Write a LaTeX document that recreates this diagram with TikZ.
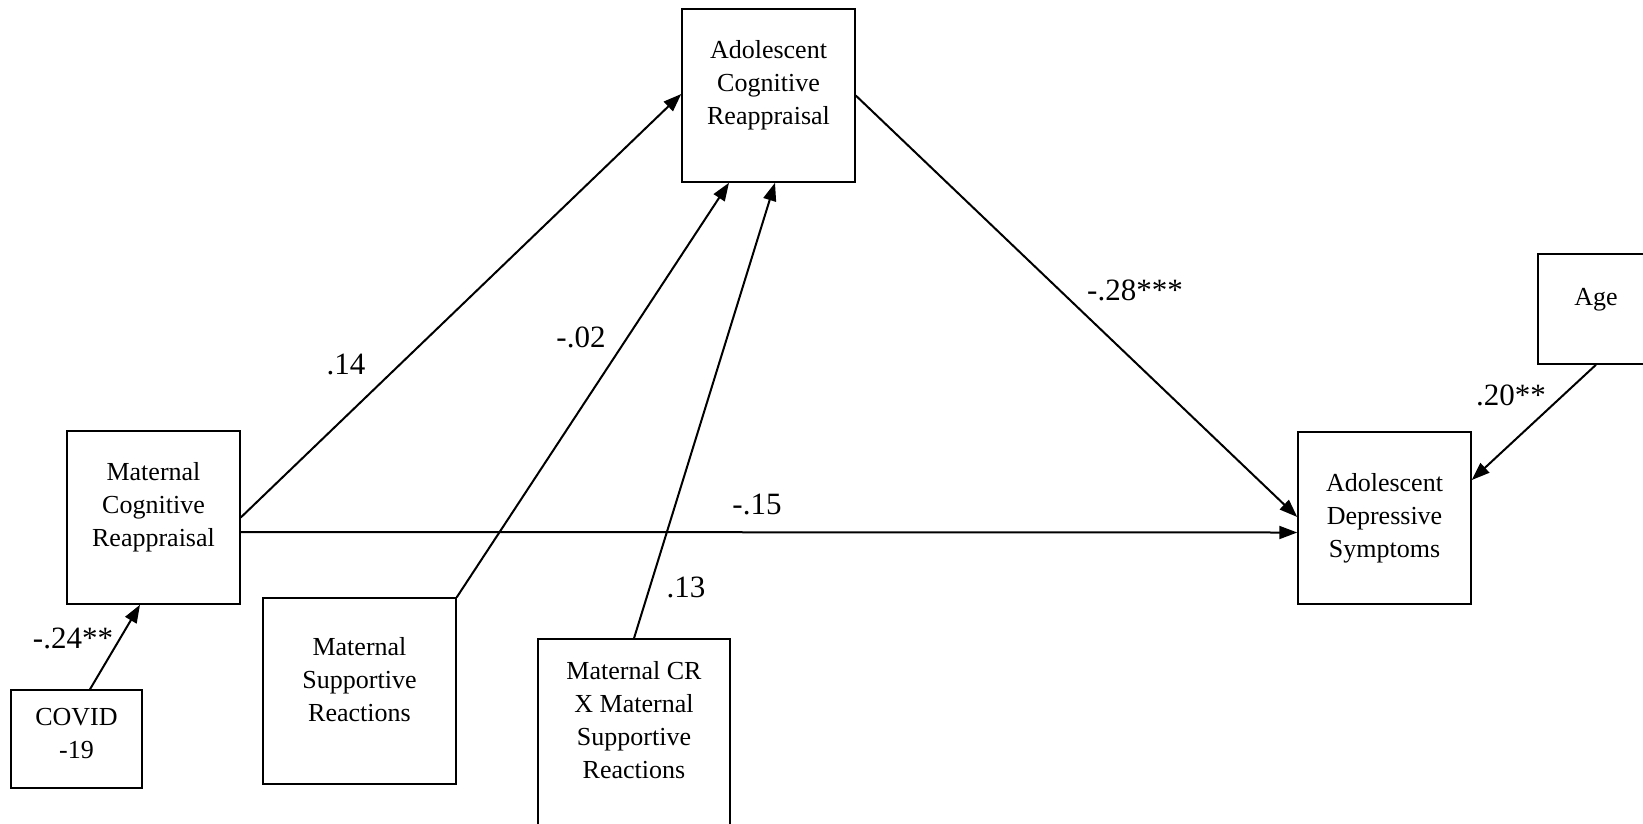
\documentclass[tikz,border=0pt]{standalone}
\usepackage{fontspec}
\setmainfont{Liberation Serif}
\usetikzlibrary{arrows.meta}
\begin{document}
\begin{tikzpicture}[x=1pt,y=-1pt,
  box/.style={draw,line width=1.5pt,rectangle,inner sep=0pt},
  boxtext/.style={align=center,font=\fontsize{26}{33}\selectfont,inner sep=0pt},
  path/.style={line width=2pt,-{Triangle[length=18pt,width=13pt]}},
  coef/.style={font=\fontsize{31}{36}\selectfont,inner sep=0pt}]
\useasboundingbox (0,0) rectangle (1643,823);
\clip (0,0) rectangle (1643,823);
% boxes
\node[box,minimum width=173pt,minimum height=173pt] (acr) at (768.5,95.5) {};
\node[box,minimum width=173pt,minimum height=173pt] (mcr) at (153.5,517.5) {};
\node[box,minimum width=173pt,minimum height=172pt] (ads) at (1384.5,518) {};
\node[box,minimum width=193pt,minimum height=186pt] (msr) at (359.5,691) {};
\node[box,minimum width=192pt,minimum height=200pt] (mcrx) at (634,739) {};
\node[box,minimum width=131pt,minimum height=98pt] (covid) at (76.5,739) {};
\node[box,minimum width=116pt,minimum height=110pt] (age) at (1596,309) {};
% box texts
\node[boxtext] (acrt) at (768.5,85) {Adolescent\\Cognitive\\Reappraisal};
\node[boxtext] (mcrt) at (153.5,507) {Maternal\\Cognitive\\Reappraisal};
\node[boxtext] (adst) at (1384.5,518) {Adolescent\\Depressive\\Symptoms};
\node[boxtext] (msrt) at (359.5,680) {Maternal\\Supportive\\Reactions};
\node[boxtext] (mcrxt) at (634,720) {Maternal CR\\X Maternal\\Supportive\\Reactions};
\node[boxtext] (covidt) at (76.5,733.5) {COVID\\-19};
\node[boxtext] (aget) at (1596,300) {Age};
% paths
\draw[path] (mcr.east) -- ([yshift=1.5pt]acr.west);
\draw[path] ([yshift=-14.5pt]mcr.east) -- ([yshift=-14.5pt]ads.west);
\draw[path] (acr.east) -- ([yshift=1pt]ads.west);
\draw[path] (msr.north east) -- ([xshift=-39.5pt]acr.south);
\draw[path] (mcrx.north) -- ([xshift=6.5pt]acr.south);
\draw[path] ([xshift=13.5pt]covid.north) -- ([xshift=-13.5pt]mcr.south);
\draw[path] (age.south) -- ([yshift=38pt]ads.east);
% coefficients
\node[coef] (c14) at (346,364) {.14};
\node[coef] (c02) at (581,337) {-.02};
\node[coef] (c15) at (757,504) {-.15};
\node[coef] (c28) at (1135,290) {-.28***};
\node[coef] (c13) at (686,587) {.13};
\node[coef] (c24) at (73,638) {-.24**};
\node[coef] (c20) at (1511,395) {.20**};
\end{tikzpicture}
\end{document}
